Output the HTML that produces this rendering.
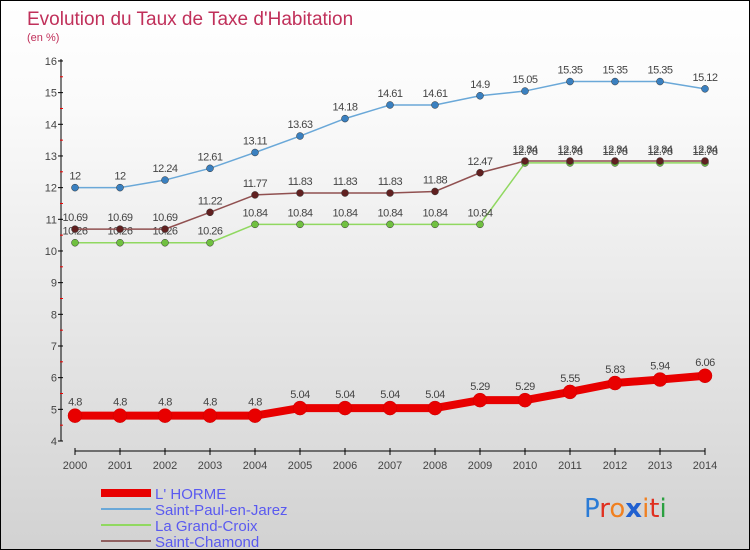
<!DOCTYPE html>
<html><head><meta charset="utf-8"><style>
body{margin:0}
#c{width:748px;height:548px;border:1px solid #000;background:linear-gradient(#fff,#fafafa 20%,#d2d2d2);position:relative;font-family:"Liberation Sans",sans-serif;overflow:hidden}
</style></head><body>
<div id="c">
<svg id="s" width="748" height="548">
<text x="26" y="24" font-size="19" fill="#c0305a">Evolution du Taux de Taxe d'Habitation</text>
<text x="26" y="40" font-size="11" fill="#c0305a">(en %)</text>
<g id="legend"></g>
<text x="583" y="516" font-size="26" font-family="DejaVu Sans"><tspan fill="#2a7bd6">P</tspan><tspan fill="#e03020">r</tspan><tspan fill="#f08020">o</tspan><tspan fill="#2060d0" font-weight="bold">x</tspan><tspan fill="#f08020">i</tspan><tspan fill="#e03020">t</tspan><tspan fill="#2aa040">i</tspan></text>
</svg>
</div>
<script>
const years=[2000,2001,2002,2003,2004,2005,2006,2007,2008,2009,2010,2011,2012,2013,2014];
const lhorme=[4.8,4.8,4.8,4.8,4.8,5.04,5.04,5.04,5.04,5.29,5.29,5.55,5.83,5.94,6.06];
const stPaul=[12,12,12.24,12.61,13.11,13.63,14.18,14.61,14.61,14.9,15.05,15.35,15.35,15.35,15.12];
const grandCroix=[10.26,10.26,10.26,10.26,10.84,10.84,10.84,10.84,10.84,10.84,12.78,12.78,12.78,12.78,12.78];
const stChamond=[10.69,10.69,10.69,11.22,11.77,11.83,11.83,11.83,11.88,12.47,12.84,12.84,12.84,12.84,12.84];
const yTicks=[4,5,6,7,8,9,10,11,12,13,14,15,16];
const names=["L' HORME","Saint-Paul-en-Jarez","La Grand-Croix","Saint-Chamond"];
const NS="http://www.w3.org/2000/svg";
const svg=document.getElementById('s');
const X=i=>74+i*45, Y=v=>440-(v-4)*31.67;
function mk(t,a,p){const e=document.createElementNS(NS,t);for(const k in a)e.setAttribute(k,a[k]);(p||svg).appendChild(e);return e;}
let ax=mk('line',{x1:60,y1:58,x2:60,y2:440,stroke:'#000'});


yTicks.forEach(v=>{mk('line',{x1:57,x2:62,y1:Y(v),y2:Y(v),stroke:'#000'});
 if(v<16)mk('line',{x1:59,x2:62,y1:Y(v+0.5),y2:Y(v+0.5),stroke:'#e00'});
 let t=mk('text',{x:56,y:Y(v)+4,'font-size':11,fill:'#444','text-anchor':'end'});t.textContent=v;
 
 });
let xa=mk('line',{x1:74,y1:450,x2:704,y2:450,stroke:'#000'});


years.forEach((y,i)=>{mk('line',{x1:X(i),x2:X(i),y1:447,y2:454,stroke:'#000'});
 let t=mk('text',{x:X(i),y:468,'font-size':11,fill:'#444','text-anchor':'middle'});t.textContent=y;
 
 });
const series=[[stPaul,'#6aa8d8','#3a80c0',1.5,3.5],[grandCroix,'#90d860','#70c040',1.5,3.5],[stChamond,'#905050','#602020',1.5,3.5],[lhorme,'#e80000','#e80000',8,7]];
const sn=['saint-paul','grand-croix','saint-chamond','l-horme'];
series.forEach(([d,lc,pc,w,r],k)=>{
 let p=mk('polyline',{points:d.map((v,i)=>X(i)+','+Y(v)).join(' '),fill:'none',stroke:lc,'stroke-width':w,'stroke-linejoin':'round'});
 
 
 d.forEach((v,i)=>{let c=mk('circle',{cx:X(i),cy:Y(v),r:r,fill:pc,stroke:k==3?'#c00':'#333','stroke-width':0.5});
  
  
  let t=mk('text',{x:X(i),y:Y(v)-(k==3?10:8),'font-size':11,fill:'#444','text-anchor':'middle','letter-spacing':'-0.5'});t.textContent=v;
  
  });
});
const lg=document.getElementById('legend');
const lcols=['#e80000','#6aa8d8','#90d860','#906060'],lw=[8,2,2,2];
names.forEach((n,i)=>{const y=492+i*16;
 let l=mk('line',{x1:100,x2:150,y1:y,y2:y,stroke:lcols[i],'stroke-width':lw[i]},lg);
 
 
 let t=mk('text',{x:154,y:y+6,'font-size':15,fill:'#5a5af0'},lg);t.textContent=n;
 
 });
</script>
</body></html>
